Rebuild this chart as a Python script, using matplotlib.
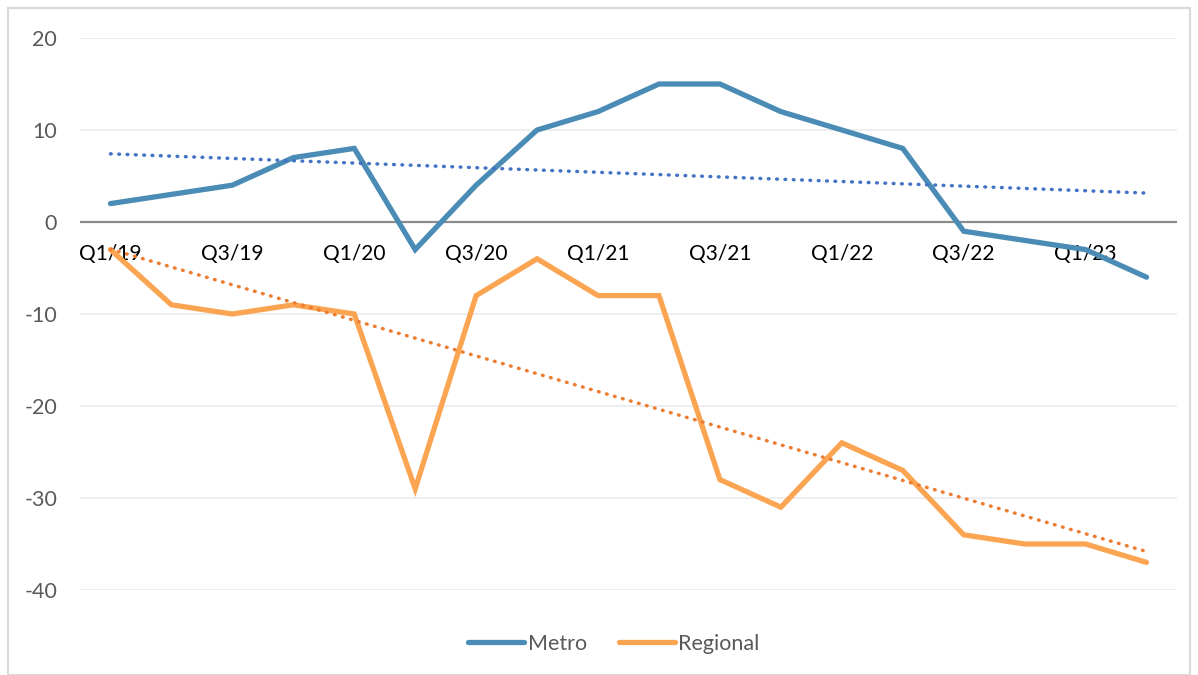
import matplotlib
matplotlib.use("Agg")
import matplotlib.pyplot as plt
import numpy as np
from matplotlib.patches import Rectangle

quarters = ["Q1/19", "Q2/19", "Q3/19", "Q4/19", "Q1/20", "Q2/20", "Q3/20", "Q4/20",
            "Q1/21", "Q2/21", "Q3/21", "Q4/21", "Q1/22", "Q2/22", "Q3/22", "Q4/22",
            "Q1/23", "Q2/23"]
metro = [2, 3, 4, 7, 8, -3, 4, 10, 12, 15, 15, 12, 10, 8, -1, -2, -3, -6]
regional = [-3, -9, -10, -9, -10, -29, -8, -4, -8, -8, -28, -31, -24, -27, -34, -35, -35, -37]
yticks = [20, 10, 0, -10, -20, -30, -40]

plt.rcParams['font.family'] = ['Lato', 'DejaVu Sans']

fig = plt.figure(figsize=(11.98, 6.75), dpi=100)
ax = fig.add_axes([80/1198, 1-590/675, (1177-80)/1198, (590-38)/675])

x = np.arange(len(quarters))
c_metro = "#4A8CB5"
c_reg = "#FBA552"

for yt in yticks:
    if yt != 0:
        ax.axhline(yt, color="#EBEBEB", lw=1.2, zorder=0)
ax.axhline(0, color="#8C8C8C", lw=1.6, zorder=1)

ax.plot(x, metro, color=c_metro, lw=3.8, solid_capstyle="round", solid_joinstyle="miter", label="Metro", zorder=3)
ax.plot(x, regional, color=c_reg, lw=3.8, solid_capstyle="round", solid_joinstyle="miter", label="Regional", zorder=3)

pm = np.polyfit(x, metro, 1)
pr = np.polyfit(x, regional, 1)
ax.plot(x, np.polyval(pm, x), color="#4472C4", lw=2.5, linestyle=(0, (0.2, 2.2)), dash_capstyle="round", zorder=4)
ax.plot(x, np.polyval(pr, x), color="#ED7D31", lw=2.5, linestyle=(0, (0.2, 2.2)), dash_capstyle="round", zorder=4)

ax.set_xlim(-0.5, len(quarters) - 0.5)
ax.set_ylim(-40, 20)
ax.set_yticks(yticks)
ax.set_yticklabels([str(v) for v in yticks], color="#595959", fontsize=15.5)
ax.tick_params(axis="y", length=0, pad=16.5)
ax.set_xticks([])
for s in ax.spines.values():
    s.set_visible(False)

for i, q in enumerate(quarters):
    if i % 2 == 0:
        ax.annotate(q, xy=(i, 0), xytext=(0, -32), textcoords="offset pixels",
                    ha="center", va="center", fontsize=15, color="black", zorder=2)

leg = fig.legend(loc="center",
                 bbox_to_anchor=(614/1198, 1-644/675), ncol=2, frameon=False,
                 fontsize=15.5, handlelength=2.6, columnspacing=1.5, handletextpad=0.15)
for t in leg.get_texts():
    t.set_color("#595959")

fig.add_artist(Rectangle((8/1198, 0), (1190-8)/1198, 1-8/675, transform=fig.transFigure,
                         fill=False, edgecolor="#D9D9D9", lw=1.5))

fig.savefig("out.png", dpi=100)
